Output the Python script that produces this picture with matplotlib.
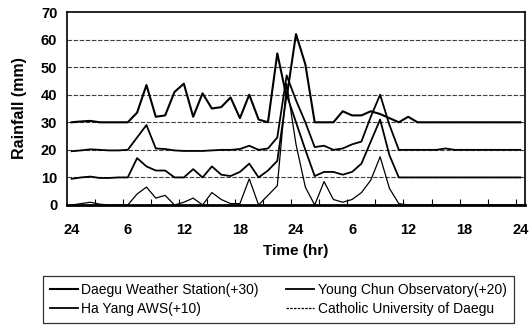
import matplotlib
matplotlib.use("Agg")
import matplotlib.pyplot as plt
from matplotlib.lines import Line2D
import numpy as np

plt.rcParams['font.family'] = ['Liberation Sans', 'DejaVu Sans']

# hourly rainfall (mm) with plotting offsets already included, 49 hours
hours = np.arange(49)
daegu = [30, 30.3, 30.5, 30, 30, 30, 30, 33.5, 43.5, 32, 32.5, 41, 44, 32, 40.5, 35,
         35.5, 39, 31.5, 40, 31, 30, 55, 39, 62, 51, 30, 30, 30, 34, 32.5, 32.5,
         34, 33, 31.5, 30, 32, 30, 30, 30, 30, 30, 30, 30, 30, 30, 30, 30, 30]
young_chun = [19.5, 19.8, 20.2, 20, 19.8, 19.8, 20, 24.5, 29, 20.5, 20.3, 19.8, 19.6,
              19.6, 19.6, 19.8, 20, 20, 20.3, 21.5, 20, 20.5, 24.5, 47, 38, 30, 21,
              21.5, 20, 20.5, 22, 23, 32, 40, 29, 20, 20, 20, 20, 20, 20.5, 20, 20,
              20, 20, 20, 20, 20, 20]
ha_yang = [9.5, 10, 10.3, 9.8, 9.8, 10, 10, 17, 14, 12.5, 12.5, 10, 10, 13, 10, 14,
           11, 10.5, 12, 15, 10, 12.5, 16, 40, 30, 20, 10.5, 12, 12, 11, 12, 15, 23,
           31, 18, 10, 10, 10, 10, 10, 10, 10, 10, 10, 10, 10, 10, 10, 10]
catholic = [0, 0.5, 1, 0.3, 0, 0, 0, 4, 6.5, 2.5, 3.5, 0, 1, 2.5, 0, 4.5, 2, 0.5,
            0.5, 9.5, 0, 3.5, 7, 44, 22, 6.5, 0, 8.5, 2, 1, 2, 4.5, 9, 17.5, 6, 0.5,
            0, 0, 0, 0, 0, 0, 0, 0, 0, 0, 0, 0, 0]

tick_pos = [0, 6, 12, 18, 24, 30, 36, 42, 48]
tick_lab = ['24', '6', '12', '18', '24', '6', '12', '18', '24']

fig = plt.figure(figsize=(5.3, 3.26), dpi=100)
ax = fig.add_axes([67/530, 1-205/326, 458/530, 193/326])

l1, = ax.plot(hours, daegu, color='black', lw=1.5)
l2, = ax.plot(hours, young_chun, color='black', lw=1.3)
l3, = ax.plot(hours, ha_yang, color='black', lw=1.3)
ax.plot(hours, catholic, color='black', lw=0.9)
# legend sample for catholic looks dashed in the original
l4 = Line2D([], [], color='black', lw=0.9, ls=(0, (2, 1)))

ax.set_xlim(-0.5, 48.5)
ax.set_ylim(0, 70)
ax.set_yticks(range(0, 71, 10))
for y in range(10, 70, 10):
    ax.axhline(y, color='0.25', lw=0.8, ls=(0, (4, 1.5)), zorder=0)

ax.set_xticks(tick_pos)
ax.set_xticklabels(tick_lab)
ax.set_xticks(np.arange(2.5, 48, 3), minor=True)
ax.tick_params(axis='x', which='major', length=0, pad=13, labelsize=10.5)
ax.tick_params(axis='x', which='minor', direction='in', length=4, width=0.8)
ax.tick_params(axis='y', length=0, pad=7, labelsize=10.5)
for lab in ax.get_xticklabels() + ax.get_yticklabels():
    lab.set_fontweight('bold')

for s in ax.spines.values():
    s.set_linewidth(1.2)
ax.spines['bottom'].set_linewidth(2)

ax.set_ylabel('Rainfall (mm)', fontsize=11.5, fontweight='bold', labelpad=10)
ax.set_xlabel('Time (hr)', fontsize=11, fontweight='bold', labelpad=5)

leg = fig.legend([l1, l3, l2, l4],
                 ['Daegu Weather Station(+30)', 'Ha Yang AWS(+10)',
                  'Young Chun Observatory(+20)', 'Catholic University of Daegu'],
                 loc='upper left', bbox_to_anchor=(43/530, 1-276/326),
                 ncol=2, fontsize=10, frameon=True, fancybox=False,
                 borderaxespad=0, handlelength=2.0, handletextpad=0.25,
                 labelspacing=0.37, borderpad=0.5, columnspacing=2.0)
leg.get_frame().set_edgecolor('black')
leg.get_frame().set_linewidth(0.9)

fig.savefig('out.png', dpi=100)
